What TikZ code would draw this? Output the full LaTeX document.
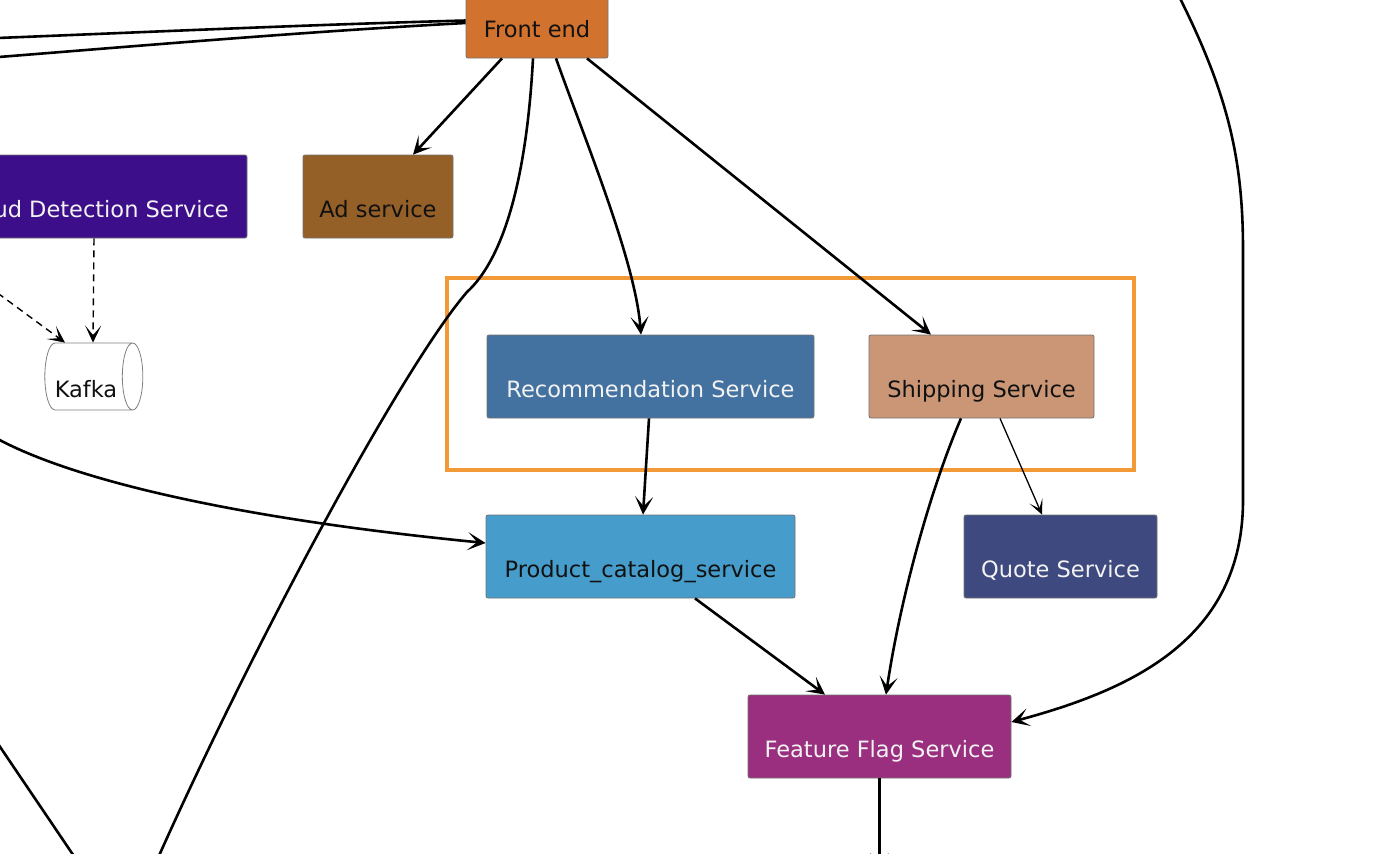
\documentclass[tikz,border=0pt]{standalone}
\usepackage{fontspec}
\setmainfont{DejaVu Sans}
\usetikzlibrary{shapes.geometric,arrows.meta}
\definecolor{cFront}{HTML}{D2722F}
\definecolor{cAd}{HTML}{955F28}
\definecolor{cFraud}{HTML}{3D0E8A}
\definecolor{cRec}{HTML}{4472A0}
\definecolor{cShip}{HTML}{CA9676}
\definecolor{cProd}{HTML}{469DCC}
\definecolor{cQuote}{HTML}{3E4A7F}
\definecolor{cFlag}{HTML}{9A2F7F}
\definecolor{cGroup}{HTML}{F29A38}
\definecolor{cLight}{HTML}{F2F2F2}
\definecolor{cDark}{HTML}{111111}
\tikzset{
  bigtip/.tip={Stealth[length=18pt,width=18pt,inset=9.5pt,line width=2pt]},
  smalltip/.tip={Stealth[length=15pt,width=14pt,inset=8.5pt,line width=1pt]},
  midtip/.tip={Stealth[length=17pt,width=16pt,inset=9.5pt,line width=1.4pt]}
}
\begin{document}
\begin{tikzpicture}[x=1pt,y=-1pt,
  svc/.style={draw=black!55, line width=0.8pt, rounded corners=2pt,
    minimum height=83pt, inner sep=0pt, text height=41pt, text depth=0pt,
    font=\fontsize{22.5}{27}\selectfont},
  litetext/.style={text=cLight},
  darktext/.style={text=cDark},
  flow/.style={line width=2.6pt, -bigtip},
  plainflow/.style={line width=2.6pt},
  thinflow/.style={line width=1.3pt, -smalltip},
  async/.style={line width=1.4pt, dash pattern=on 7pt off 5pt, -midtip},
  group/.style={draw=cGroup, line width=4pt}
]
\useasboundingbox (0,0) rectangle (1398,854);
\fill[white] (0,0) rectangle (1398,854);
\clip (0,0) rectangle (1398,854);

% group frame
\draw[group] (447,278) rectangle (1134,470);

% nodes
\node[svc, fill=cFront, darktext, minimum width=142pt] (fe) at (537,16.5) {Front end};
\node[svc, fill=cAd, darktext, minimum width=150pt] (ad) at (378,196.5) {Ad service};
\node[svc, fill=cFraud, litetext, minimum width=306pt] (fraud) at (94,196.5) {Fraud Detection Service};
\node[cylinder, draw=black!50, line width=0.8pt, fill=white, aspect=0.5,
  minimum width=67pt, minimum height=98pt, inner sep=0pt, text height=41pt, text depth=0pt,
  font=\fontsize{22.5}{27}\selectfont, darktext] (kafka) at (88.5,376.5) {\hspace*{-5pt}Kafka};
\node[svc, fill=cRec, litetext, minimum width=327pt] (rec) at (650.5,376.5) {Recommendation Service};
\node[svc, fill=cShip, darktext, minimum width=225pt] (ship) at (981.5,376.5) {Shipping Service};
\node[svc, fill=cProd, darktext, minimum width=309pt] (pc) at (640.5,556.5) {Product\_catalog\_service};
\node[svc, fill=cQuote, litetext, minimum width=193pt] (quote) at (1060.5,556.5) {Quote Service};
\node[svc, fill=cFlag, litetext, minimum width=263pt] (ff) at (879.5,736.5) {Feature Flag Service};

% free ends outside the frame
\coordinate (outL1) at (-20,38.7);
\coordinate (outL2) at (-20,58.5);
\coordinate (outBL) at (150,876);
\coordinate (outK) at (-12,286);
\coordinate (outP) at (-22,427);
\coordinate (outTR) at (1160,-40);
\coordinate (outFF) at (879.5,871);
\coordinate (inLB) at (-10,732);
\coordinate (outLB) at (82,868);

% edges
\draw[plainflow] ([yshift=-4pt]fe.west) .. controls (300,25) and (150,32) .. (outL1);
\draw[plainflow] ([yshift=-6.5pt]fe.west) .. controls (300,32) and (150,45) .. (outL2);
\draw[flow] ([xshift=-35pt]fe.south) -- ([xshift=35pt]ad.north);
\draw[flow] ([xshift=19pt]fe.south) .. controls (585,140) and (635,260) .. ([xshift=-9.5pt]rec.north);
\draw[flow] ([xshift=50pt]fe.south) -- ([xshift=-50.5pt]ship.north);
\draw[plainflow] ([xshift=-4pt]fe.south) .. controls (526,190) and (500,262) .. (467,292)
  .. controls (400,370) and (245,660) .. (outBL);
\draw[async] (fraud.south) -- ([xshift=4.5pt]kafka.north);
\draw[async] (outK) -- ([xshift=-23.5pt]kafka.north);
\draw[flow] (outP) .. controls (40,470) and (200,515) .. ([yshift=13.5pt]pc.west);
\draw[flow] ([xshift=-1.5pt]rec.south) -- ([xshift=2.5pt]pc.north);
\draw[thinflow] ([xshift=18.5pt]ship.south) -- ([xshift=-18.5pt]quote.north);
\draw[flow] ([xshift=-20.5pt]ship.south) .. controls (930,490) and (900,600) .. ([xshift=6.5pt]ff.north);
\draw[flow] ([xshift=54.5pt]pc.south) -- ([xshift=-54.5pt]ff.north);
\draw[flow] (outTR) .. controls (1225,80) and (1243,150) .. (1243,250) -- (1243,500)
  .. controls (1243,640) and (1130,690) .. ([yshift=14.5pt]ff.east);
\draw[flow] (ff.south) -- (outFF);
\draw[plainflow] (inLB) -- (outLB);
\end{tikzpicture}
\end{document}
